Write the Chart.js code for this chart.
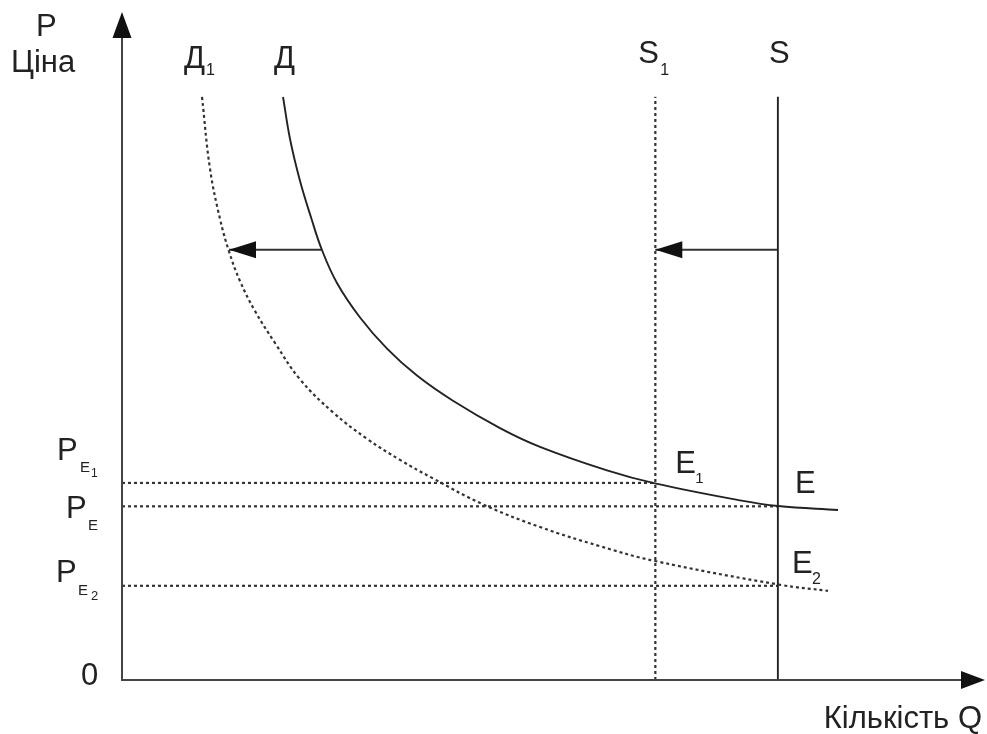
<!DOCTYPE html>
<html>
<head>
<meta charset="utf-8">
<style>
  html, body { margin: 0; padding: 0; background: #fff; }
</style>
<script src="https://cdn.jsdelivr.net/npm/chart.js@4.4.0/dist/chart.umd.min.js"></script>
</head>
<body>
<canvas id="chart" width="987" height="734"></canvas>
<script>
// --- data (Q on x, P on y, both 0..100) ---
const demandQ  = [18.66, 19.47, 20.63, 21.90, 23.17, 24.91, 27.58, 30.71, 34.18, 38.35, 43.80, 48.44, 56.20, 61.76, 71.61, 76.01, 82.97];
const demandP  = [87.28, 80.99, 74.70, 69.27, 64.37, 59.43, 54.27, 49.61, 45.57, 41.80, 37.71, 34.90, 31.38, 29.43, 26.89, 26.05, 25.45];
const demand1Q = [9.27, 10.20, 11.36, 12.40, 13.67, 15.41, 17.73, 20.63, 24.45, 28.39, 32.21, 36.04, 41.83, 48.44, 55.39, 61.76, 76.25, 81.81];
const demand1P = [87.28, 76.50, 69.01, 64.16, 59.73, 55.24, 50.45, 45.01, 40.07, 36.11, 32.95, 30.18, 26.29, 22.90, 20.03, 17.81, 14.25, 13.35];
const supplyQ  = 76.0;   // S
const supply1Q = 61.8;   // S1
const lineTop  = 87.3;
const priceE1  = 29.5;
const priceE   = 26.0;
const priceE2  = 14.1;
const arrowP   = 64.4;
const demandArrowQ = [23.2, 12.4];
const supplyArrowQ = [76.0, 61.8];

const INK = '#222';
const DOT = [3, 3];

const pts = (qs, ps) => qs.map((q, i) => ({ x: q, y: ps[i] }));

function lineSet(data, dashed, extra) {
  return Object.assign({
    data,
    borderColor: dashed ? '#333' : INK,
    borderWidth: dashed ? 2.2 : 1.9,
    borderDash: dashed ? DOT : [],
    pointRadius: 0,
    fill: false,
    tension: 0
  }, extra || {});
}

const datasets = [
  lineSet(pts(demandQ, demandP), false, { tension: 0.4 }),
  lineSet(pts(demand1Q, demand1P), true, { tension: 0.4 }),
  lineSet([{ x: supplyQ, y: 0 }, { x: supplyQ, y: lineTop }], false),
  lineSet([{ x: supply1Q, y: 0 }, { x: supply1Q, y: lineTop }], true),
  lineSet([{ x: 0, y: priceE1 }, { x: supply1Q, y: priceE1 }], true),
  lineSet([{ x: 0, y: priceE }, { x: supplyQ, y: priceE }], true),
  lineSet([{ x: 0, y: priceE2 }, { x: supplyQ, y: priceE2 }], true),
  lineSet(demandArrowQ.map(q => ({ x: q, y: arrowP })), false, { borderColor: '#333', borderWidth: 2, arrow: true }),
  lineSet(supplyArrowQ.map(q => ({ x: q, y: arrowP })), false, { borderColor: '#333', borderWidth: 2, arrow: true })
];

function head(ctx, tx, ty, dir, len, half) {
  ctx.beginPath();
  ctx.moveTo(tx, ty);
  if (dir === 'left') { ctx.lineTo(tx + len, ty - half); ctx.lineTo(tx + len, ty + half); }
  if (dir === 'right') { ctx.lineTo(tx - len, ty - half); ctx.lineTo(tx - len, ty + half); }
  if (dir === 'up') { ctx.lineTo(tx - half, ty + len); ctx.lineTo(tx + half, ty + len); }
  ctx.closePath();
  ctx.fill();
}

function txt(ctx, s, x, y, size) {
  ctx.font = size + 'px "Liberation Sans", Arial, sans-serif';
  ctx.fillText(s, x, y);
}

const decor = {
  id: 'decor',
  afterDatasetsDraw(chart) {
    const { ctx, chartArea: a, scales: { x, y } } = chart;
    ctx.save();
    ctx.fillStyle = '#111';
    ctx.strokeStyle = '#444';
    ctx.lineWidth = 2;

    // axes
    ctx.beginPath();
    ctx.moveTo(a.left, a.top + 20);
    ctx.lineTo(a.left, a.bottom);
    ctx.lineTo(a.right - 20, a.bottom);
    ctx.stroke();
    head(ctx, a.left, a.top, 'up', 26, 9.5);
    head(ctx, a.right, a.bottom, 'right', 24, 9);

    // shift arrows
    chart.data.datasets.forEach(ds => {
      if (!ds.arrow) return;
      const end = ds.data[ds.data.length - 1];
      head(ctx, x.getPixelForValue(end.x), y.getPixelForValue(end.y), 'left', 27, 8.5);
    });

    // labels
    ctx.fillStyle = INK;
    ctx.textAlign = 'left';
    ctx.textBaseline = 'alphabetic';
    const top = y.getPixelForValue(lineTop);

    txt(ctx, 'P', 36, 36, 31);
    txt(ctx, 'Ціна', 11, 72, 31);

    const d1x = x.getPixelForValue(demand1Q[0]);
    txt(ctx, 'Д', d1x - 18, top - 29, 31);
    txt(ctx, '1', d1x + 4, top - 22, 16);
    const dx = x.getPixelForValue(demandQ[0]);
    txt(ctx, 'Д', dx - 9, top - 29, 31);

    const s1x = x.getPixelForValue(supply1Q);
    txt(ctx, 'S', s1x - 17, top - 34, 31);
    txt(ctx, '1', s1x + 5, top - 22, 16);
    const sx = x.getPixelForValue(supplyQ);
    txt(ctx, 'S', sx - 9, top - 34, 31);

    const yE1 = y.getPixelForValue(priceE1);
    txt(ctx, 'P', 57, yE1 - 23, 31);
    txt(ctx, 'E', 80, yE1 - 11, 15);
    txt(ctx, '1', 91, yE1 - 6, 12);
    const yE = y.getPixelForValue(priceE);
    txt(ctx, 'P', 66, yE + 12, 31);
    txt(ctx, 'E', 88, yE + 24, 15);
    const yE2 = y.getPixelForValue(priceE2);
    txt(ctx, 'P', 56, yE2 - 4, 31);
    txt(ctx, 'E', 78, yE2 + 9, 15);
    txt(ctx, '2', 91, yE2 + 14, 13);
    txt(ctx, '0', 81, a.bottom + 5, 31);

    txt(ctx, 'E', s1x + 20, yE1 - 10, 31);
    txt(ctx, '1', s1x + 40, yE1, 15);
    txt(ctx, 'E', sx + 17, yE - 13, 31);
    txt(ctx, 'E', sx + 14, yE2 - 13, 31);
    txt(ctx, '2', sx + 34, yE2 - 2, 16);

    ctx.textAlign = 'right';
    txt(ctx, 'Кількість Q', 982, 728, 31);
    ctx.restore();
  }
};

new Chart(document.getElementById('chart'), {
  type: 'line',
  data: { datasets },
  options: {
    responsive: false,
    devicePixelRatio: 1,
    animation: false,
    layout: { padding: { left: 122, right: 2, top: 12, bottom: 54 } },
    plugins: { legend: { display: false }, tooltip: { enabled: false } },
    scales: {
      x: { type: 'linear', min: 0, max: 100, display: false },
      y: { type: 'linear', min: 0, max: 100, display: false }
    }
  },
  plugins: [decor]
});
</script>
</body>
</html>
